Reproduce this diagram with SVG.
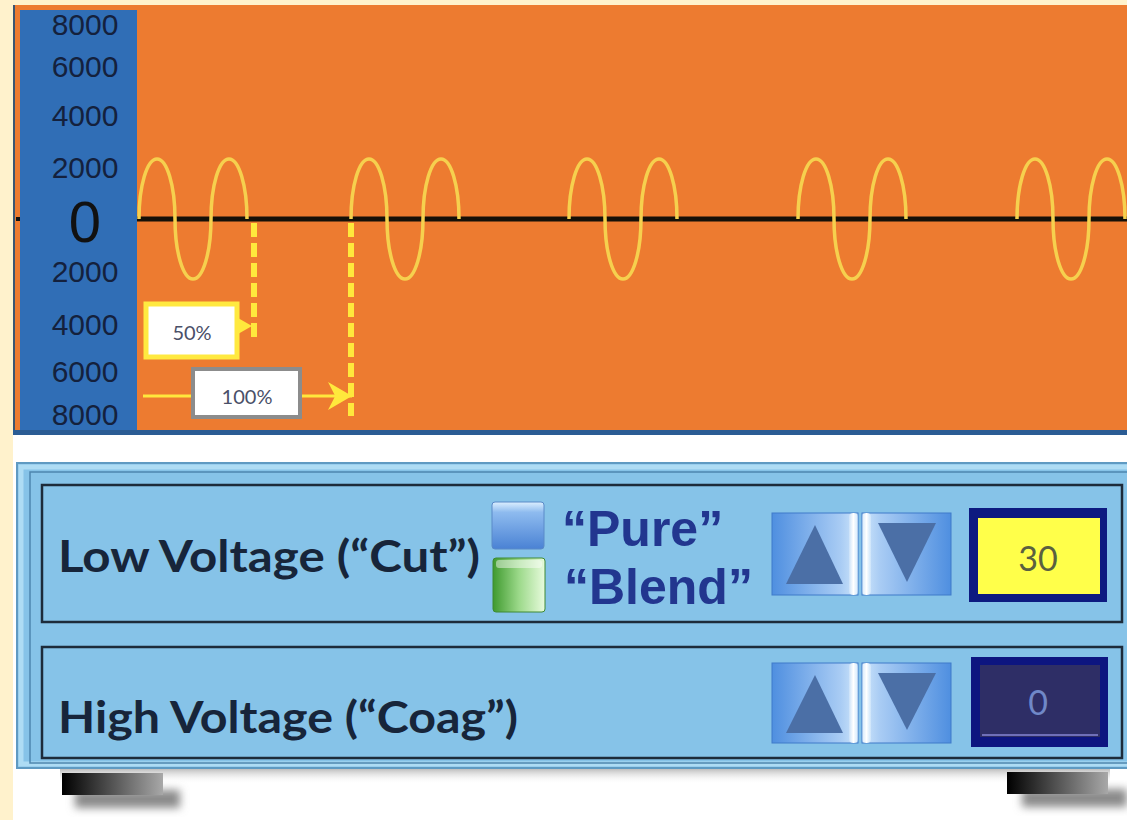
<svg xmlns="http://www.w3.org/2000/svg" width="1127" height="820" viewBox="0 0 1127 820">
<defs>
<style>
.axl{font-family:"Liberation Sans",Arial,sans-serif;font-size:30px;fill:#14213D;text-anchor:middle}
.wave{fill:none;stroke:#F6D04E;stroke-width:3.5}
.dash{stroke:#FFE83C;stroke-width:6;stroke-dasharray:14 6;fill:none}
.lbl{font-family:Lato,"Open Sans",sans-serif;font-size:20px;fill:#4A5068;text-anchor:middle}
.row{fill:none;stroke:#1D2B3A;stroke-width:2.5}
.big{font-family:Lato,"Open Sans",sans-serif;font-weight:bold;font-size:44px;fill:#17253A}
.mode{font-family:"Liberation Sans",Arial,sans-serif;font-weight:bold;font-size:50px;fill:#22368F}
.tri{fill:#4B6FA6}
.val{font-family:Lato,"Open Sans",sans-serif;font-size:34px;text-anchor:middle}
</style>
<linearGradient id="btnL" x1="0" y1="0" x2="1" y2="0">
<stop offset="0" stop-color="#4F8FE0"/><stop offset="0.8" stop-color="#A9CCF4"/><stop offset="1" stop-color="#CFE6FB"/>
</linearGradient>
<linearGradient id="btnR" x1="0" y1="0" x2="1" y2="0">
<stop offset="0" stop-color="#CFE6FB"/><stop offset="0.2" stop-color="#A9CCF4"/><stop offset="1" stop-color="#4F8FE0"/>
</linearGradient>
<linearGradient id="seam" x1="0" y1="0" x2="1" y2="0">
<stop offset="0" stop-color="#FFFFFF" stop-opacity="0.2"/><stop offset="0.5" stop-color="#FFFFFF"/><stop offset="1" stop-color="#E6F4FF" stop-opacity="0.4"/>
</linearGradient>
<linearGradient id="blueSq" x1="0" y1="0" x2="0" y2="1">
<stop offset="0" stop-color="#DCEFFF"/><stop offset="0.22" stop-color="#8EBBEF"/><stop offset="1" stop-color="#4A82D4"/>
</linearGradient>
<linearGradient id="greenSq" x1="0" y1="0" x2="1" y2="0">
<stop offset="0" stop-color="#3F9A2F"/><stop offset="0.5" stop-color="#9CD98A"/><stop offset="1" stop-color="#E8FBDD"/>
</linearGradient>
<linearGradient id="foot" x1="0" y1="0" x2="1" y2="0">
<stop offset="0" stop-color="#000000"/><stop offset="1" stop-color="#A8A8A8"/>
</linearGradient>
<linearGradient id="pshadow" x1="0" y1="0" x2="0" y2="1">
<stop offset="0" stop-color="#7A7A7A" stop-opacity="0.7"/><stop offset="1" stop-color="#FFFFFF" stop-opacity="0"/>
</linearGradient>
<filter id="blur" x="-20%" y="-50%" width="140%" height="200%"><feGaussianBlur stdDeviation="4"/></filter>
<marker id="arr" viewBox="0 0 10 10" refX="10" refY="5" markerWidth="24" markerHeight="28" markerUnits="userSpaceOnUse" orient="auto" preserveAspectRatio="none">
<path d="M0,0 L10,5 L0,10 L3,5 z" fill="#FFE83C"/>
</marker>
</defs>

<!-- background -->
<rect x="0" y="0" width="1127" height="820" fill="#FFFFFF"/>
<rect x="0" y="0" width="1127" height="5" fill="#FFF2CC"/>
<rect x="0" y="0" width="13" height="820" fill="#FFF2CC"/>

<!-- chart panel -->
<g id="chart">
<rect x="13" y="5" width="1114" height="428" fill="#ED7B30"/>
<rect x="13" y="5" width="2" height="428" fill="#3B5572"/>
<rect x="20" y="10" width="117" height="421" fill="#306EB6"/>
<rect x="13" y="430" width="1114" height="5" fill="#2B5C94"/>
<rect x="16" y="217" width="4" height="4" fill="#111"/>
<g id="axis-labels">
<text class="axl" x="85" y="35">8000</text>
<text class="axl" x="85" y="77">6000</text>
<text class="axl" x="85" y="126">4000</text>
<text class="axl" x="85" y="178">2000</text>
<text x="85" y="242" font-family="Liberation Sans, Arial, sans-serif" font-size="58" fill="#111" text-anchor="middle">0</text>
<text class="axl" x="85" y="282">2000</text>
<text class="axl" x="85" y="335">4000</text>
<text class="axl" x="85" y="382">6000</text>
<text class="axl" x="85" y="425">8000</text>
</g>
<line x1="137" y1="219" x2="1127" y2="219" stroke="#151008" stroke-width="5"/>
<g id="waves">
<path class="wave" d="M139 219 a18 60 0 0 1 36 0 a18 60 0 0 0 36 0 a18 60 0 0 1 36 0"/>
<path class="wave" d="M351 219 a18 60 0 0 1 36 0 a18 60 0 0 0 36 0 a18 60 0 0 1 36 0"/>
<path class="wave" d="M569 219 a18 60 0 0 1 36 0 a18 60 0 0 0 36 0 a18 60 0 0 1 36 0"/>
<path class="wave" d="M798 219 a18 60 0 0 1 36 0 a18 60 0 0 0 36 0 a18 60 0 0 1 36 0"/>
<path class="wave" d="M1017 219 a18 60 0 0 1 36 0 a18 60 0 0 0 36 0 a18 60 0 0 1 36 0"/>
</g>
</g>

<g id="connectors">
<line class="dash" x1="254" y1="223" x2="254" y2="342"/>
<line class="dash" x1="351" y1="223" x2="351" y2="416"/>
<polygon points="238,318 252,326 238,334" fill="#FFE83C"/>
<line x1="143" y1="396" x2="191" y2="396" stroke="#FFE83C" stroke-width="3"/>
<line x1="302" y1="396" x2="352" y2="396" stroke="#FFE83C" stroke-width="3" marker-end="url(#arr)"/>
</g>

<g id="label-50">
<rect x="146" y="304" width="91" height="53" fill="#FFFFFF" stroke="#FFE940" stroke-width="5"/>
<text class="lbl" x="192" y="340">50%</text>
</g>
<g id="label-100">
<rect x="193" y="369" width="107" height="48" fill="#FFFFFF" stroke="#8C8C8C" stroke-width="4"/>
<text class="lbl" x="247" y="404">100%</text>
</g>

<!-- control panel -->
<g id="panel">
<rect x="60" y="766" width="1050" height="18" fill="url(#pshadow)"/>
<rect x="75" y="790" width="105" height="18" fill="#8A8A8A" filter="url(#blur)"/>
<rect x="1022" y="789" width="105" height="18" fill="#8A8A8A" filter="url(#blur)"/>
<rect x="62" y="773" width="101" height="22" fill="url(#foot)"/>
<rect x="1007" y="772" width="101" height="22" fill="url(#foot)"/>
<rect x="17" y="463" width="1120" height="305" fill="#86C3E8" stroke="#5F9AC2" stroke-width="2"/>
<rect x="21" y="467" width="1112" height="297" fill="none" stroke="#AEDCF4" stroke-width="5"/>
<rect x="30" y="472" width="1105" height="291" fill="none" stroke="#4E86AE" stroke-width="1.5"/>
</g>

<g id="row-cut">
<rect class="row" x="42" y="485" width="1080" height="137"/>
<text class="big" x="58" y="572" textLength="422" lengthAdjust="spacingAndGlyphs">Low Voltage (“Cut”)</text>
</g>

<g id="mode-select">
<rect x="492" y="502" width="52" height="47" rx="3" fill="url(#blueSq)" stroke="#5A8AC8" stroke-width="1"/>
<rect x="493" y="558" width="52" height="54" rx="3" fill="url(#greenSq)" stroke="#3E8A32" stroke-width="1"/>
<rect x="496" y="560" width="46" height="8" rx="3" fill="#FFFFFF" opacity="0.45"/>
<text class="mode" x="562" y="546">“Pure”</text>
<text class="mode" x="564" y="604">“Blend”</text>
</g>

<g id="spin-cut">
<rect x="772" y="513" width="86" height="82" fill="url(#btnL)" stroke="#3F7BC9" stroke-width="1"/>
<rect x="862" y="513" width="89" height="82" fill="url(#btnR)" stroke="#3F7BC9" stroke-width="1"/>
<rect x="849" y="513" width="9" height="82" rx="4" fill="url(#seam)"/>
<rect x="862" y="513" width="9" height="82" rx="4" fill="url(#seam)"/>
<polygon class="tri" points="786,584 843,584 815,525"/>
<polygon class="tri" points="878,523 936,523 907,582"/>
</g>

<g id="value-cut">
<rect x="969" y="508" width="138" height="94" fill="#0D1A80"/>
<rect x="978" y="518" width="122" height="76" fill="#FFFF4A"/>
<text class="val" x="1038" y="571" fill="#5A6040">30</text>
</g>

<g id="row-coag">
<rect class="row" x="42" y="647" width="1080" height="111"/>
<text class="big" x="58" y="733" textLength="460" lengthAdjust="spacingAndGlyphs">High Voltage (“Coag”)</text>
</g>

<g id="spin-coag">
<rect x="772" y="663" width="86" height="80" fill="url(#btnL)" stroke="#3F7BC9" stroke-width="1"/>
<rect x="862" y="663" width="89" height="80" fill="url(#btnR)" stroke="#3F7BC9" stroke-width="1"/>
<rect x="849" y="663" width="9" height="80" rx="4" fill="url(#seam)"/>
<rect x="862" y="663" width="9" height="80" rx="4" fill="url(#seam)"/>
<polygon class="tri" points="786,733 843,733 815,675"/>
<polygon class="tri" points="878,673 936,673 907,730"/>
</g>

<g id="value-coag">
<rect x="971" y="657" width="137" height="90" fill="#0D1580"/>
<rect x="980" y="665" width="120" height="72" fill="#2E2E66"/>
<line x1="982" y1="735" x2="1098" y2="735" stroke="#7070B8" stroke-width="2"/>
<text class="val" x="1038" y="715" fill="#7088C8">0</text>
</g>
</svg>
